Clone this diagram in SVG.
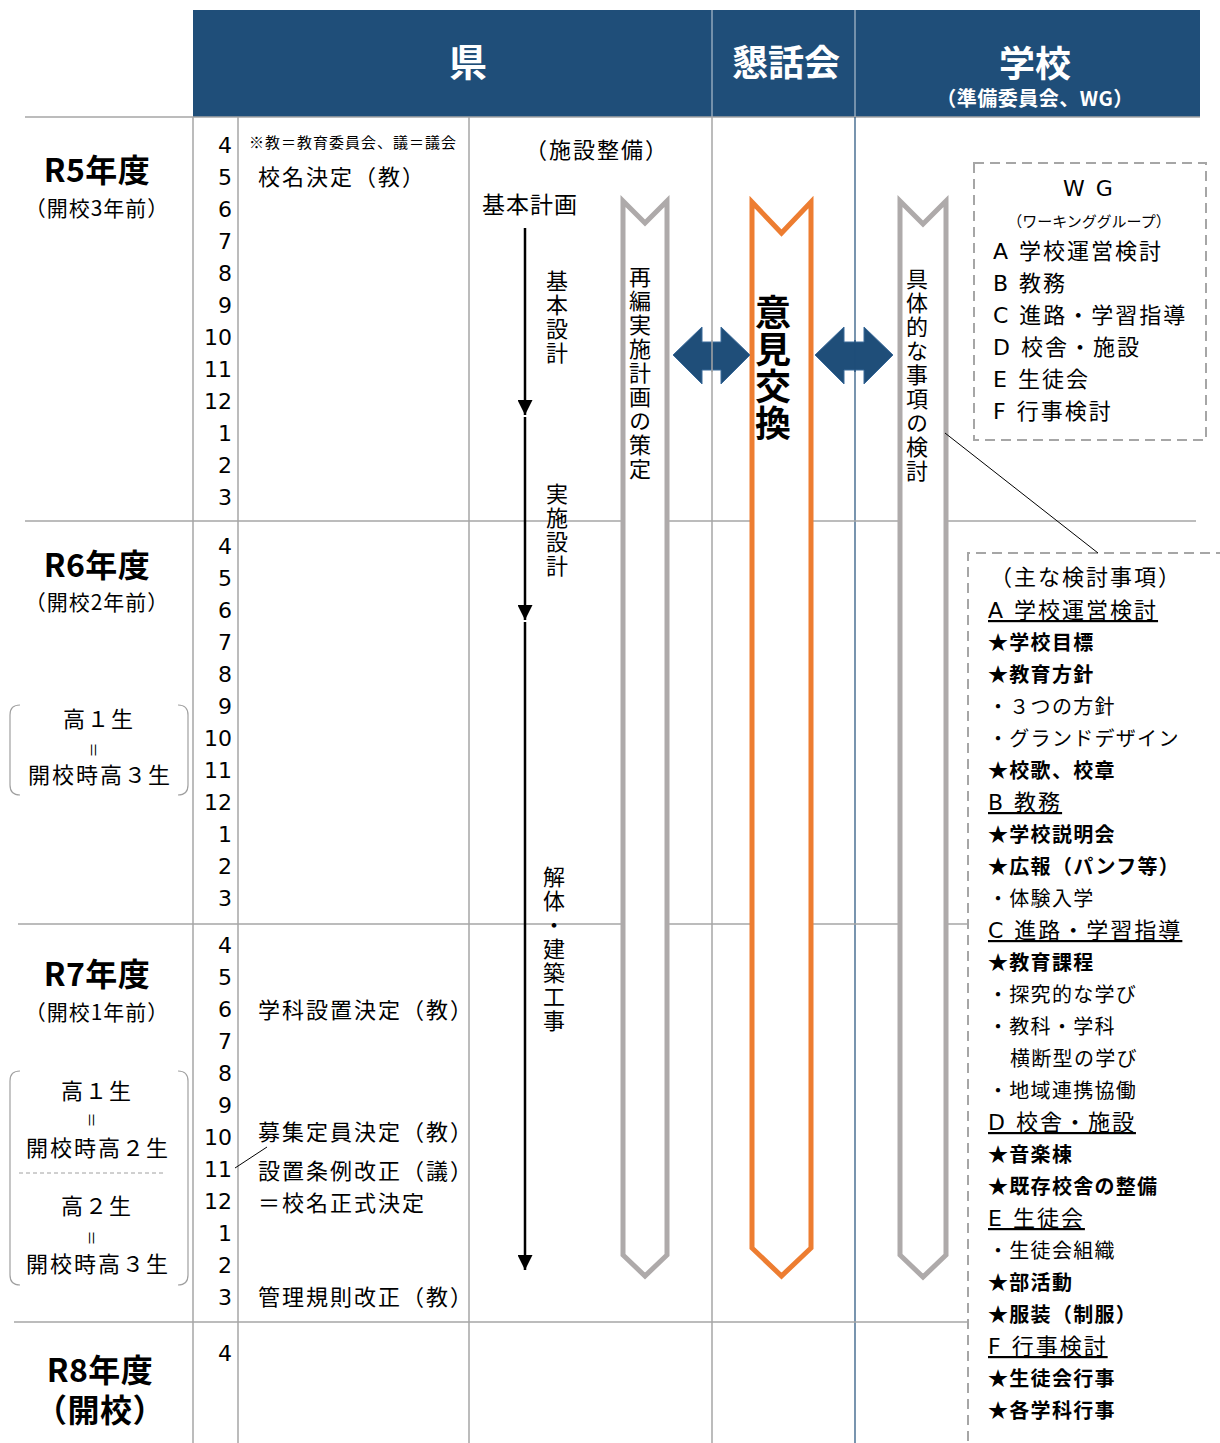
<svg xmlns="http://www.w3.org/2000/svg" width="1220" height="1443" viewBox="0 0 1220 1443">
<style>
text{font-family:"Noto Sans CJK JP","Noto Sans",sans-serif;fill:#000}
.hd{fill:#fff;font-weight:bold;text-anchor:middle}
.m{font-family:"DejaVu Sans","Noto Sans CJK JP",sans-serif;font-size:22px;text-anchor:end}
.yr{font-size:32px;font-weight:bold;text-anchor:middle;letter-spacing:0.5px}
.ys{font-size:21px;text-anchor:middle;letter-spacing:1px}
.t22{font-size:22px;letter-spacing:2px}
.c22{font-size:22px;text-anchor:middle;letter-spacing:2px}
.vt{font-size:22px;writing-mode:vertical-rl;letter-spacing:2px}
.lat{font-family:"DejaVu Sans","Noto Sans CJK JP",sans-serif}
.it{font-size:20px;letter-spacing:1.3px}
.b{font-size:20px;font-weight:bold;letter-spacing:1.3px}
.u{font-size:22px;text-decoration:underline;letter-spacing:2px}
.grid{stroke:#A6A6A6;stroke-width:1.5;fill:none}
.brk{stroke:#A0A0A0;stroke-width:1.2;fill:none}
.dash{stroke:#A6A6A6;stroke-width:2;stroke-dasharray:10 6;fill:none}
.chg{fill:#fff;stroke:#AEAAAA;stroke-width:5}
.cho{fill:#fff;stroke:#ED7D31;stroke-width:5}
.dbl{fill:#1F4E79;stroke:#3A6A9A;stroke-width:1}
</style>
<defs>
<marker id="ah" markerUnits="userSpaceOnUse" markerWidth="16" markerHeight="15" refX="15" refY="7.5" orient="auto">
<path d="M0,0 L15,7.5 L0,15 Z" fill="#000"/>
</marker>
</defs>
<rect x="0" y="0" width="1220" height="1443" fill="#fff"/>

<g id="header">
<rect x="193" y="10" width="1007" height="107" fill="#1F4E79"/>
<line x1="712" y1="10" x2="712" y2="117" stroke="#C9D3DE" stroke-width="1"/>
<line x1="855" y1="10" x2="855" y2="117" stroke="#C9D3DE" stroke-width="1"/>
<text class="hd" x="468" y="76" font-size="38">県</text>
<text class="hd" x="786" y="76" font-size="36">懇話会</text>
<text class="hd" x="1035" y="77" font-size="36">学校</text>
<text class="hd" x="1035" y="106" font-size="20" letter-spacing="0.5">（準備委員会、WG）</text>
</g>

<g id="grid">
<line class="grid" x1="25" y1="117" x2="1200" y2="117"/>
<line class="grid" x1="193" y1="117" x2="193" y2="1443"/>
<line class="grid" x1="238" y1="117" x2="238" y2="1443"/>
<line class="grid" x1="469" y1="117" x2="469" y2="1443"/>
<line class="grid" x1="712" y1="117" x2="712" y2="1443"/>
<line x1="855" y1="117" x2="855" y2="1443" stroke="#1F4E79" stroke-width="1.2"/>
<line class="grid" x1="25" y1="521" x2="1196" y2="521"/>
<line class="grid" x1="18" y1="924" x2="968" y2="924"/>
<line class="grid" x1="14" y1="1322" x2="968" y2="1322"/>
</g>

<g id="years">
<text class="yr" x="97" y="182">R5年度</text>
<text class="ys" x="97" y="216">（開校3年前）</text>
<text class="yr" x="97" y="577">R6年度</text>
<text class="ys" x="97" y="610">（開校2年前）</text>
<text class="yr" x="97" y="986">R7年度</text>
<text class="ys" x="97" y="1020">（開校1年前）</text>
<text class="yr" x="100" y="1382">R8年度</text>
<text class="yr" x="100" y="1422" font-size="31">（開校）</text>
</g>

<g id="bracket1">
<path class="brk" d="M20,705 Q10,705 10,715 V785 Q10,795 20,795"/>
<path class="brk" d="M178,705 Q188,705 188,715 V785 Q188,795 178,795"/>
<text class="c22" x="99" y="727">高１生</text>
<text font-size="15" text-anchor="middle" transform="translate(93,750) rotate(90)" y="5">＝</text>
<text class="c22" x="100" y="783">開校時高３生</text>
</g>

<g id="bracket2">
<path class="brk" d="M20,1071 Q10,1071 10,1081 V1275 Q10,1285 20,1285"/>
<path class="brk" d="M178,1071 Q188,1071 188,1081 V1275 Q188,1285 178,1285"/>
<text class="c22" x="97" y="1099">高１生</text>
<text font-size="15" text-anchor="middle" transform="translate(91,1120) rotate(90)" y="5">＝</text>
<text class="c22" x="98" y="1156">開校時高２生</text>
<line x1="19" y1="1173" x2="165" y2="1173" stroke="#A0A0A0" stroke-width="1" stroke-dasharray="4 3"/>
<text class="c22" x="97" y="1214">高２生</text>
<text font-size="15" text-anchor="middle" transform="translate(91,1238) rotate(90)" y="5">＝</text>
<text class="c22" x="98" y="1272">開校時高３生</text>
</g>

<g id="months">
<text class="m" x="232" y="153">4</text><text class="m" x="232" y="185">5</text><text class="m" x="232" y="217">6</text><text class="m" x="232" y="249">7</text><text class="m" x="232" y="281">8</text><text class="m" x="232" y="313">9</text><text class="m" x="232" y="345">10</text><text class="m" x="232" y="377">11</text><text class="m" x="232" y="409">12</text><text class="m" x="232" y="441">1</text><text class="m" x="232" y="473">2</text><text class="m" x="232" y="505">3</text>
<text class="m" x="232" y="554">4</text><text class="m" x="232" y="586">5</text><text class="m" x="232" y="618">6</text><text class="m" x="232" y="650">7</text><text class="m" x="232" y="682">8</text><text class="m" x="232" y="714">9</text><text class="m" x="232" y="746">10</text><text class="m" x="232" y="778">11</text><text class="m" x="232" y="810">12</text><text class="m" x="232" y="842">1</text><text class="m" x="232" y="874">2</text><text class="m" x="232" y="906">3</text>
<text class="m" x="232" y="953">4</text><text class="m" x="232" y="985">5</text><text class="m" x="232" y="1017">6</text><text class="m" x="232" y="1049">7</text><text class="m" x="232" y="1081">8</text><text class="m" x="232" y="1113">9</text><text class="m" x="232" y="1145">10</text><text class="m" x="232" y="1177">11</text><text class="m" x="232" y="1209">12</text><text class="m" x="232" y="1241">1</text><text class="m" x="232" y="1273">2</text><text class="m" x="232" y="1305">3</text>
<text class="m" x="232" y="1361">4</text>
</g>

<g id="ken-events">
<text x="249" y="148" font-size="15" letter-spacing="1">※教＝教育委員会、議＝議会</text>
<text class="t22" x="258" y="185">校名決定（教）</text>
<text class="t22" x="258" y="1018">学科設置決定（教）</text>
<text class="t22" x="258" y="1140">募集定員決定（教）</text>
<text class="t22" x="258" y="1179">設置条例改正（議）</text>
<text class="t22" x="258" y="1211">＝校名正式決定</text>
<text class="t22" x="258" y="1305">管理規則改正（教）</text>
</g>

<g id="facility">
<text class="c22" x="597" y="158">（施設整備）</text>
<text x="482" y="213" font-size="23" letter-spacing="1">基本計画</text>
<text class="vt" x="557" y="270">基本設計</text>
<text class="vt" x="557" y="483">実施設計</text>
<text class="vt" x="554" y="866">解体・建築工事</text>
</g>

<g id="chevron-ken">
<path class="chg" d="M623,201 L645,223 L667,201 L667,1255 L645,1276 L623,1255 Z"/>
<text class="vt" x="640" y="266">再編実施計画の策定</text>
</g>

<g id="chevron-kondankai">
<path class="cho" d="M752,202 L781.5,233 L811,202 L811,1248 L781.5,1276 L752,1248 Z"/>
<text x="773" y="294" font-size="36" font-weight="bold" style="writing-mode:vertical-rl" letter-spacing="1">意見交換</text>
</g>

<g id="chevron-school">
<path class="chg" d="M900,201 L923,224 L946,201 L946,1255 L923,1277 L900,1255 Z"/>
<text class="vt" x="917" y="268">具体的な事項の検討</text>
</g>

<g id="wg-box">
<rect class="dash" x="974" y="163" width="232" height="277"/>
<text class="c22 lat" x="1089" y="196">W G</text>
<text x="1089" y="227" font-size="15" text-anchor="middle">（ワーキンググループ）</text>
<text class="t22 lat" x="993" y="259">A 学校運営検討</text>
<text class="t22 lat" x="993" y="291">B 教務</text>
<text class="t22 lat" x="993" y="323">C 進路・学習指導</text>
<text class="t22 lat" x="993" y="355">D 校舎・施設</text>
<text class="t22 lat" x="993" y="387">E 生徒会</text>
<text class="t22 lat" x="993" y="419">F 行事検討</text>
</g>

<g id="topics-box">
<path class="dash" d="M1226,553 H968 V1443"/>
<text class="t22" x="990" y="585">（主な検討事項）</text>
<text class="u lat" x="988" y="618">A 学校運営検討</text>
<text class="b" x="988" y="650">★学校目標</text>
<text class="b" x="988" y="682">★教育方針</text>
<text class="it" x="988" y="714">・３つの方針</text>
<text class="it" x="988" y="746">・グランドデザイン</text>
<text class="b" x="988" y="778">★校歌、校章</text>
<text class="u lat" x="988" y="810">B 教務</text>
<text class="b" x="988" y="842">★学校説明会</text>
<text class="b" x="988" y="874">★広報（パンフ等）</text>
<text class="it" x="988" y="906">・体験入学</text>
<text class="u lat" x="988" y="938">C 進路・学習指導</text>
<text class="b" x="988" y="970">★教育課程</text>
<text class="it" x="988" y="1002">・探究的な学び</text>
<text class="it" x="988" y="1034">・教科・学科</text>
<text class="it" x="1010" y="1066">横断型の学び</text>
<text class="it" x="988" y="1098">・地域連携協働</text>
<text class="u lat" x="988" y="1130">D 校舎・施設</text>
<text class="b" x="988" y="1162">★音楽棟</text>
<text class="b" x="988" y="1194">★既存校舎の整備</text>
<text class="u lat" x="988" y="1226">E 生徒会</text>
<text class="it" x="988" y="1258">・生徒会組織</text>
<text class="b" x="988" y="1290">★部活動</text>
<text class="b" x="988" y="1322">★服装（制服）</text>
<text class="u lat" x="988" y="1354">F 行事検討</text>
<text class="b" x="988" y="1386">★生徒会行事</text>
<text class="b" x="988" y="1418">★各学科行事</text>
</g>

<g id="connectors">
<line x1="525" y1="228" x2="525" y2="415" stroke="#000" stroke-width="2.5" marker-end="url(#ah)"/>
<line x1="525" y1="417" x2="525" y2="620" stroke="#000" stroke-width="2.5" marker-end="url(#ah)"/>
<line x1="525" y1="622" x2="525" y2="1270" stroke="#000" stroke-width="2.5" marker-end="url(#ah)"/>
<path class="dbl" d="M673,355 L702,327 L702,342 L721,342 L721,327 L750,355 L721,384 L721,370 L702,370 L702,384 Z"/>
<path class="dbl" d="M815,355 L844,327 L844,342 L864,342 L864,327 L893,355 L864,384 L864,370 L844,370 L844,384 Z"/>
<line x1="712" y1="340" x2="712" y2="372" stroke="#A6A6A6" stroke-width="1.5"/>
<line x1="855" y1="340" x2="855" y2="372" stroke="#1F4E79" stroke-width="1.2"/>
<line x1="945" y1="433" x2="1098" y2="553" stroke="#000" stroke-width="1"/>
<line x1="235" y1="1168" x2="267" y2="1147" stroke="#000" stroke-width="1"/>
</g>
</svg>
